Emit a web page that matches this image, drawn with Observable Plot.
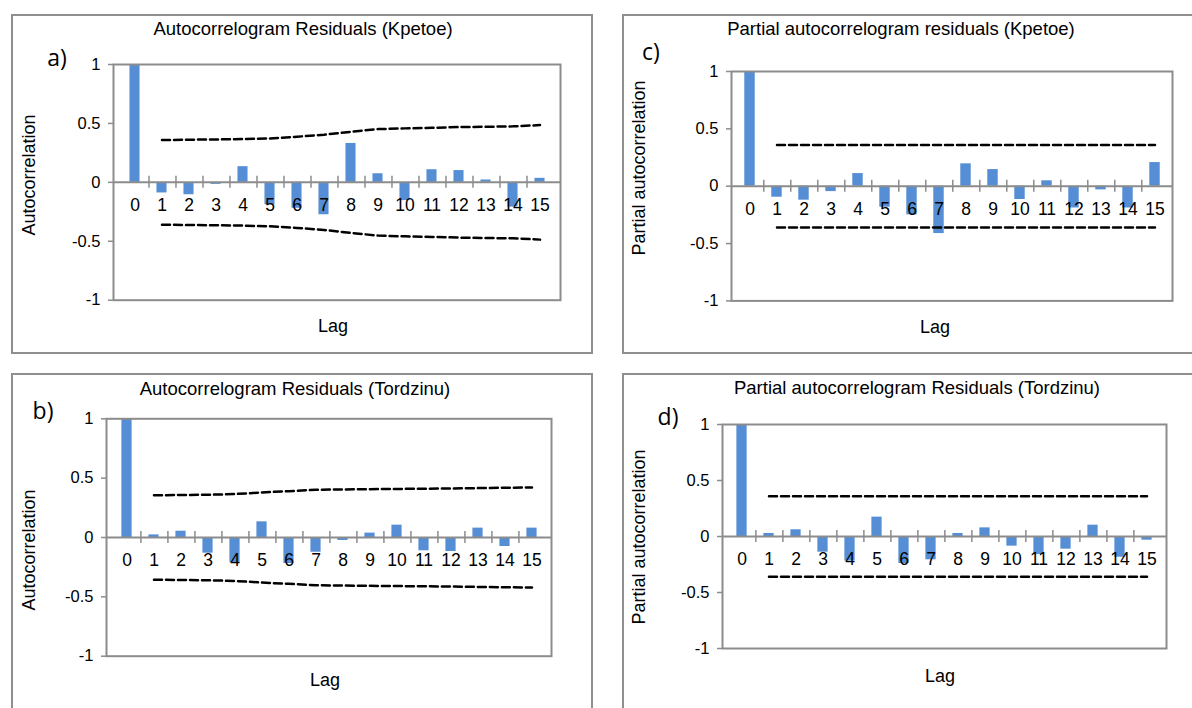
<!DOCTYPE html>
<html>
<head>
<meta charset="utf-8">
<script src="https://cdn.jsdelivr.net/npm/d3@7"></script>
<script src="https://cdn.jsdelivr.net/npm/@observablehq/plot@0.6"></script>
<style>
  html, body { margin: 0; padding: 0; background: #fff; }
  #root { position: relative; width: 1192px; height: 708px; overflow: hidden; background: #fff;
          font-family: "Liberation Sans", Arial, sans-serif; color: #000; }
  .panel { position: absolute; border: 2px solid #8f8f8f; box-sizing: border-box; background: #fff; }
  .plot { position: absolute; }
  .txt { position: absolute; white-space: nowrap; line-height: 1; transform: translate(-50%, -50%); }
  .title { font-size: 18.5px; }
  .ylab { font-size: 18px; transform: translate(-50%, -50%) rotate(-90deg); }
  .lag { font-size: 18px; }
  .letter { font-family: "Open Sans", "Noto Sans", sans-serif; font-size: 23px; }
</style>
</head>
<body>
<div id="root"></div>
<script>
// ---- data ----
const lags = [0, 1, 2, 3, 4, 5, 6, 7, 8, 9, 10, 11, 12, 13, 14, 15];
const yTicks = [-1, -0.5, 0, 0.5, 1];

// a) Autocorrelogram residuals (Kpetoe)
const acfKpetoe = [1, -0.09, -0.105, -0.017, 0.133, -0.19, -0.22, -0.275, 0.33, 0.073, -0.155, 0.107, 0.10, 0.02, -0.21, 0.034];
const acfKpetoeBoundLags = [1, 2, 3, 4, 5, 6, 7, 8, 9, 10, 11, 12, 13, 14, 15];
const acfKpetoeBound = [0.359, 0.362, 0.364, 0.367, 0.373, 0.387, 0.404, 0.429, 0.452, 0.458, 0.463, 0.469, 0.472, 0.475, 0.486];

// c) Partial autocorrelogram residuals (Kpetoe)
const pacfKpetoe = [1, -0.096, -0.122, -0.047, 0.11, -0.183, -0.25, -0.413, 0.195, 0.145, -0.116, 0.047, -0.19, -0.032, -0.19, 0.206];
const pacfKpetoeBoundLags = [1, 15];
const pacfKpetoeBound = [0.36, 0.36];

// b) Autocorrelogram residuals (Tordzinu)
const acfTordzinu = [1, 0.022, 0.053, -0.132, -0.213, 0.132, -0.219, -0.124, -0.025, 0.037, 0.104, -0.112, -0.118, 0.079, -0.076, 0.079];
const acfTordzinuBoundLags = [1, 2, 3, 4, 5, 6, 7, 8, 9, 10, 11, 12, 13, 14, 15];
const acfTordzinuBound = [0.356, 0.358, 0.36, 0.366, 0.38, 0.39, 0.402, 0.405, 0.407, 0.409, 0.411, 0.413, 0.416, 0.419, 0.422];

// d) Partial autocorrelogram residuals (Tordzinu)
const pacfTordzinu = [1, 0.027, 0.06, -0.14, -0.22, 0.173, -0.241, -0.208, 0.027, 0.077, -0.086, -0.16, -0.113, 0.101, -0.185, -0.033];
const pacfTordzinuBoundLags = [1, 15];
const pacfTordzinuBound = [0.36, 0.36];

// ---- layout (page pixels) ----
const panels = [
  { letter: "a)", title: "Autocorrelogram Residuals (Kpetoe)", yLabel: "Autocorrelation",
    values: acfKpetoe, boundLags: acfKpetoeBoundLags, bound: acfKpetoeBound,
    box: [11, 14, 582, 340], plot: [113, 64, 560, 299.7],
    titleAt: [303, 29], letterAt: [57, 57], yLabelAt: [29, 175], lagAt: [333, 326] },
  { letter: "c)", title: "Partial autocorrelogram residuals (Kpetoe)", yLabel: "Partial autocorrelation",
    values: pacfKpetoe, boundLags: pacfKpetoeBoundLags, bound: pacfKpetoeBound,
    box: [622, 14, 580, 340], plot: [731, 71, 1172, 300.4],
    titleAt: [901, 29], letterAt: [651, 51], yLabelAt: [639, 168], lagAt: [935, 327] },
  { letter: "b)", title: "Autocorrelogram Residuals (Tordzinu)", yLabel: "Autocorrelation",
    values: acfTordzinu, boundLags: acfTordzinuBoundLags, bound: acfTordzinuBound,
    box: [11, 373, 582, 345], plot: [106, 418.3, 551, 655.7],
    titleAt: [295, 389], letterAt: [43, 410], yLabelAt: [29, 550], lagAt: [325, 680] },
  { letter: "d)", title: "Partial autocorrelogram Residuals (Tordzinu)", yLabel: "Partial autocorrelation",
    values: pacfTordzinu, boundLags: pacfTordzinuBoundLags, bound: pacfTordzinuBound,
    box: [622, 373, 580, 345], plot: [722, 424, 1166, 648],
    titleAt: [917, 388], letterAt: [668, 416], yLabelAt: [639, 537], lagAt: [940, 676] }
];

const root = document.getElementById("root");
const BAR = "#558ed5";
const GRID = "#8c8c8c";

function addText(cls, text, [x, y]) {
  const d = document.createElement("div");
  d.className = "txt " + cls;
  d.textContent = text;
  d.style.left = x + "px";
  d.style.top = y + "px";
  root.appendChild(d);
}

for (const p of panels) {
  const [bx, by, bw, bh] = p.box;
  const box = document.createElement("div");
  box.className = "panel";
  Object.assign(box.style, { left: bx + "px", top: by + "px", width: bw + "px", height: bh + "px" });
  root.appendChild(box);

  const svgW = Math.min(bw, 1192 - bx);
  const svgH = Math.min(bh, 708 - by);
  const [px1, py1, px2, py2] = p.plot;
  const step = (px2 - px1) / lags.length;
  const barW = 11;
  const inset = (step - barW) / 2;

  const rows = lags.map((lag, i) => ({ lag, value: p.values[i] }));
  const upper = p.boundLags.map((lag, i) => ({ lag, v: p.bound[i] }));
  const lower = p.boundLags.map((lag, i) => ({ lag, v: -p.bound[i] }));
  const boundaries = lags.slice(0, -1);

  const chart = Plot.plot({
    width: svgW,
    height: svgH,
    marginLeft: px1 - bx,
    marginRight: svgW - (px2 - bx),
    marginTop: py1 - by,
    marginBottom: svgH - (py2 - by),
    style: { fontFamily: "Liberation Sans, Arial, sans-serif", fontSize: "16px", background: "transparent", overflow: "visible", color: "#000" },
    x: { type: "band", domain: lags, padding: 0, axis: null },
    y: { domain: [-1, 1], axis: null },
    marks: [
      Plot.barY(rows, { x: "lag", y: "value", fill: BAR, insetLeft: inset, insetRight: inset }),
      Plot.ruleY([0], { stroke: GRID, strokeWidth: 2 }),
      Plot.ruleX(boundaries, { x: d => d, y1: 0, y2: 0, dx: step / 2, insetTop: -6, insetBottom: -6, stroke: GRID, strokeWidth: 1.5 }),
      Plot.line(upper, { x: "lag", y: "v", stroke: "#000", strokeWidth: 2.5, strokeDasharray: "8 4" }),
      Plot.line(lower, { x: "lag", y: "v", stroke: "#000", strokeWidth: 2.5, strokeDasharray: "8 4" }),
      Plot.frame({ stroke: GRID, strokeWidth: 2 }),
      Plot.text(lags, { x: d => d, y: 0, text: d => String(d), dy: 23, fontSize: 17.5, fill: "#000" }),
      Plot.axisY({ ticks: yTicks, tickFormat: d => String(d), tickSize: 5, tickPadding: 8, fontSize: 16.5, stroke: GRID, strokeWidth: 1.5, label: null })
    ]
  });
  chart.classList.add("plot");
  chart.style.left = bx + "px";
  chart.style.top = by + "px";
  root.appendChild(chart);

  addText("title", p.title, p.titleAt);
  addText("letter", p.letter, p.letterAt);
  addText("ylab", p.yLabel, p.yLabelAt);
  addText("lag", "Lag", p.lagAt);
}
</script>
</body>
</html>
